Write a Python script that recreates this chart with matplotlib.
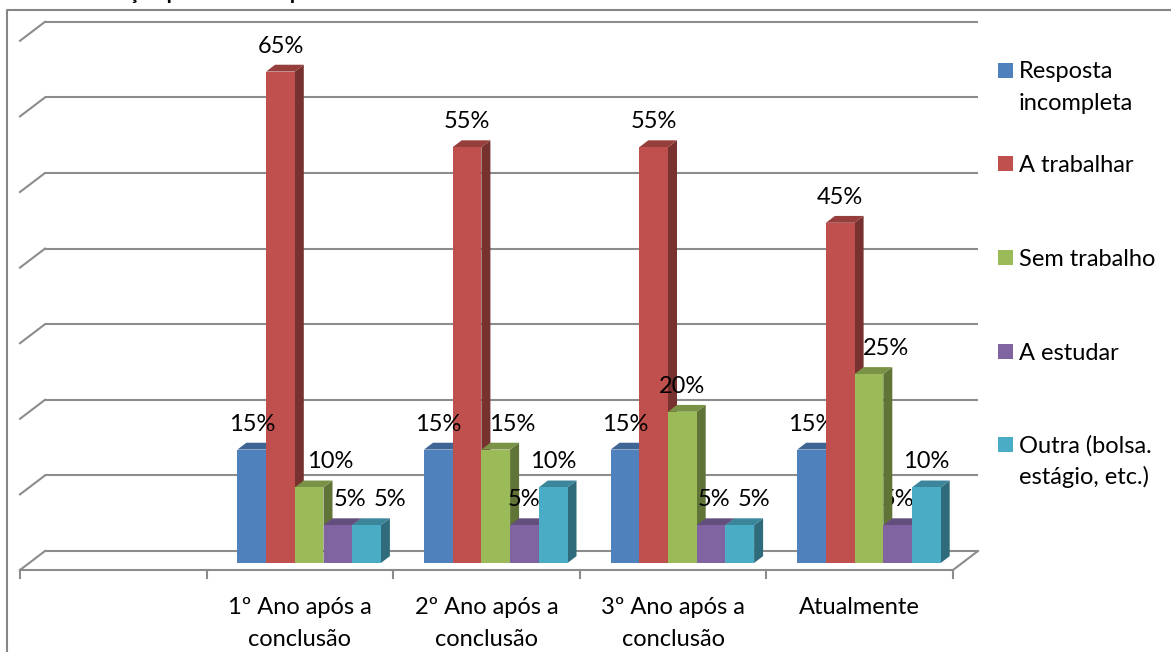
import matplotlib

matplotlib.use("Agg")
import matplotlib.pyplot as plt
from matplotlib.patches import Polygon, Rectangle
from matplotlib.transforms import blended_transform_factory
import numpy as np

# ── data ──────────────────────────────────────────────────────────────────────
categories = ["", "1º Ano após a\nconclusão", "2º Ano após a\nconclusão",
              "3º Ano após a\nconclusão", "Atualmente"]
series_names = ["Resposta\nincompleta", "A trabalhar", "Sem trabalho",
                "A estudar", "Outra (bolsa.\nestágio, etc.)"]
resposta_incompleta = [None, 15, 15, 15, 15]
a_trabalhar = [None, 65, 55, 55, 45]
sem_trabalho = [None, 10, 15, 20, 25]
a_estudar = [None, 5, 5, 5, 5]
outra = [None, 5, 10, 5, 10]
grid_values = [0, 10, 20, 30, 40, 50, 60, 70]
title = "Situação profissional após a conclusão"

series = [resposta_incompleta, a_trabalhar, sem_trabalho, a_estudar, outra]
COLORS = ["#4f81bd", "#c0504d", "#9bbb59", "#8064a2", "#4bacc6"]
GRID = "#8c8c8c"
FRAME = "#868686"
FS = 17

# Excel nudged a few data labels sideways to dodge neighbours (pixels)
LABEL_NUDGE = {(1, 2): 21, (1, 3): 12, (1, 4): 23, (2, 2): 16, (3, 3): 3,
               (3, 4): 14, (4, 2): 17}

plt.rcParams["font.family"] = ["Lato", "DejaVu Sans"]

# ── layout (pixels of the 1171x652 canvas) ───────────────────────────────────
W, H = 1171, 652
X0, Y0 = 20, 570          # front-left corner of the floor
CAT_PX, PCT_PX = 186.6, 7.56
DX, DY = 25 / CAT_PX, 19 / PCT_PX   # depth of the 3d box in data units
F0, F1 = 0.37, 0.73                 # bar depth range inside the box
BAR_W = 28.7 / CAT_PX


def shade(c, k):
    r, g, b = matplotlib.colors.to_rgb(c)
    return (r * k, g * k, b * k)


fig = plt.figure(figsize=(W / 100, H / 100), dpi=100, facecolor="white")
ax = fig.add_axes([0, 0, 1, 1])
ax.set_xlim(-X0 / CAT_PX, (W - X0) / CAT_PX)
ax.set_ylim((Y0 - H) / PCT_PX, Y0 / PCT_PX)
ax.axis("off")

# pixel axes for frame, legend, title
pix = fig.add_axes([0, 0, 1, 1])
pix.set_xlim(0, W)
pix.set_ylim(H, 0)
pix.axis("off")

n_cat = len(categories)
# back wall gridlines + left wall diagonals
for v in grid_values:
    ax.plot([DX, n_cat + DX], [v + DY, v + DY], color=GRID, lw=1.5, zorder=1,
            solid_capstyle="butt")
    ax.plot([0, DX], [v, v + DY], color=GRID, lw=1.5, zorder=1)
# floor
ax.plot([0, n_cat], [0, 0], color=GRID, lw=1.5, zorder=1)
ax.plot([n_cat, n_cat + DX], [0, DY], color=GRID, lw=1.5, zorder=1)
for i in range(n_cat + 1):
    ax.plot([i, i], [0, -8 / PCT_PX], color=GRID, lw=1.5, zorder=1)

# 3d bars
bdx, bdy = (F1 - F0) * DX, (F1 - F0) * DY
z = 2
for c in range(n_cat):
    for s, vals in enumerate(series):
        v = vals[c]
        if v is None:
            continue
        left = c + 0.5 + (s - 2.5) * BAR_W + F0 * DX
        bottom = F0 * DY
        top = v + bottom
        col = COLORS[s]
        ax.add_patch(Polygon([(left + BAR_W, bottom), (left + BAR_W + bdx, bottom + bdy),
                              (left + BAR_W + bdx, top + bdy), (left + BAR_W, top)],
                             closed=True, facecolor=shade(col, 0.62), edgecolor="none", zorder=z))
        ax.add_patch(Polygon([(left, top), (left + BAR_W, top),
                              (left + BAR_W + bdx, top + bdy), (left + bdx, top + bdy)],
                             closed=True, facecolor=shade(col, 0.78), edgecolor="none", zorder=z + 1))
        ax.add_patch(Rectangle((left, bottom), BAR_W, v, facecolor=col,
                               edgecolor="none", zorder=z + 2))
        nudge = LABEL_NUDGE.get((c, s), 0)
        ax.text(left + BAR_W / 2 + nudge / CAT_PX, top + 19 / PCT_PX, f"{v}%",
                ha="center", va="baseline", fontsize=FS, color="black", zorder=50)
        z += 3

# category labels (two lines, centered on the front category slot)
btr = blended_transform_factory(ax.transData, pix.transData)
for c, lab in enumerate(categories):
    for k, line in enumerate(lab.split("\n")):
        if line:
            ax.text(c + 0.5, 614 + 32 * k, line, transform=btr, ha="center",
                    va="baseline", fontsize=FS, color="black")

# legend
LEG_Y = [70.5, 163.5, 257.5, 351.5, 444.5]
for s, name in enumerate(series_names):
    y = LEG_Y[s]
    pix.add_patch(Rectangle((998, y - 7.5), 15, 15, facecolor=COLORS[s], edgecolor="none"))
    for k, line in enumerate(name.split("\n")):
        pix.text(1019, y + 8 + 32 * k, line, ha="left", va="baseline",
                 fontsize=FS, color="black")

# chart frame and (cropped) title
pix.plot([7, 7, W + 5], [H + 5, 10, 10], color=FRAME, lw=1.5)
pix.text(82, -1, title, ha="left", va="baseline", fontsize=15,
         fontweight="bold", color="black", clip_on=False)

fig.savefig("out.png", dpi=100, facecolor="white")
